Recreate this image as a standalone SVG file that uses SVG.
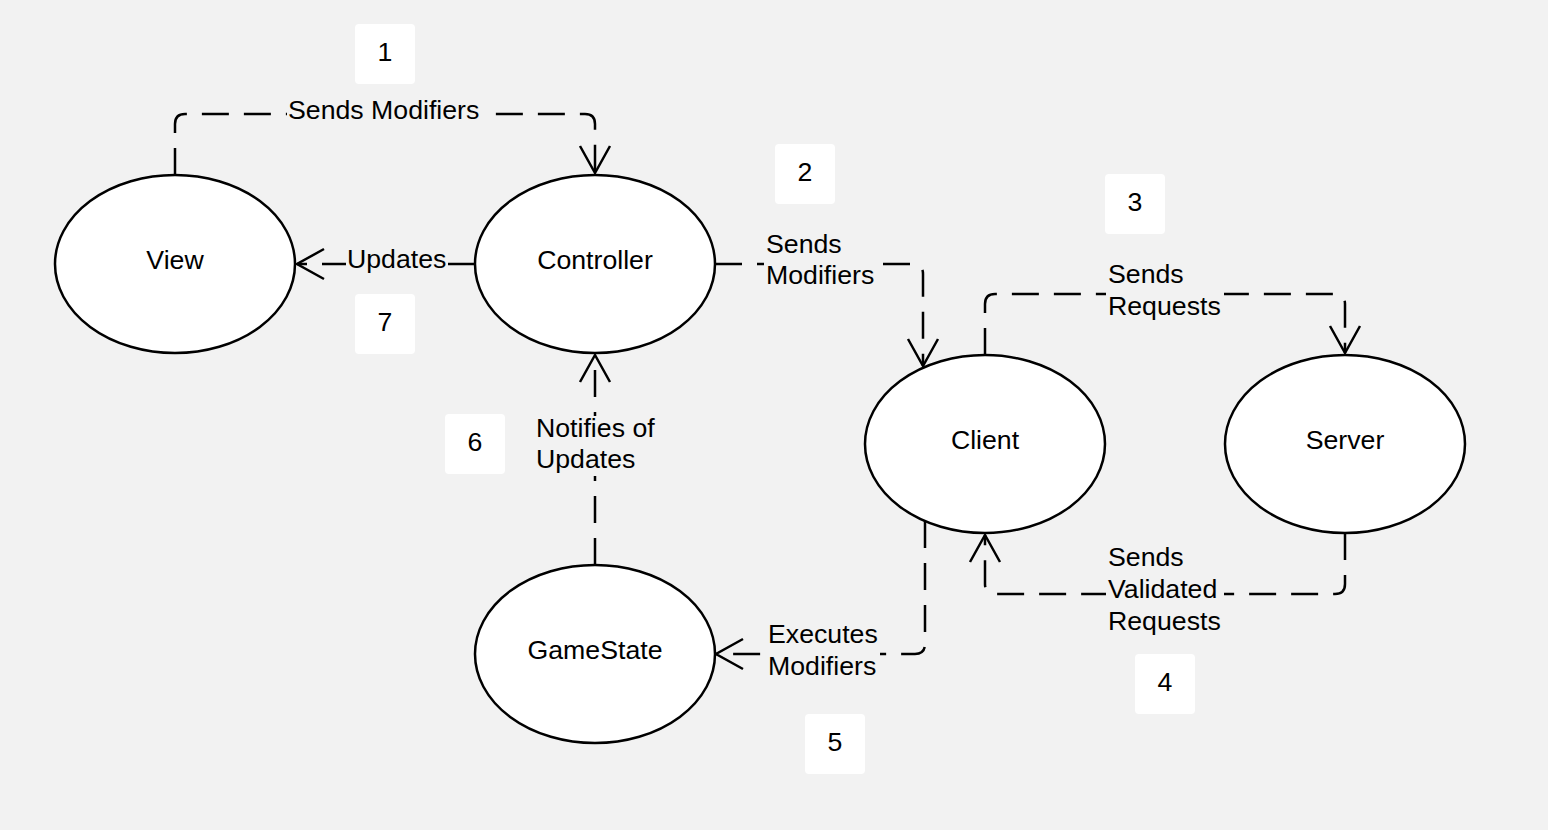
<svg xmlns="http://www.w3.org/2000/svg" width="1548" height="830" viewBox="0 0 1548 830">
<defs>
<style>
.node{fill:#ffffff;stroke:#000000;stroke-width:2.5}
.nl{font-family:"Liberation Sans",Arial,sans-serif;font-size:26.7px;fill:#000;text-anchor:middle}
.lbl{font-family:"Liberation Sans",Arial,sans-serif;font-size:26.7px;fill:#000}
.conn{fill:none;stroke:#000;stroke-width:2.5;stroke-dasharray:27 15;marker-end:url(#arr)}
.lbg{fill:#f2f2f2}
.badge{fill:#ffffff}
</style>
<marker id="arr" markerUnits="userSpaceOnUse" markerWidth="40" markerHeight="40" viewBox="-32 -20 40 40" refX="0" refY="0" orient="auto" overflow="visible">
<path d="M-27,-15 L0,0 L-27,15" fill="none" stroke="#000" stroke-width="2.5"/>
</marker>
</defs>
<rect x="0" y="0" width="1548" height="830" fill="#f2f2f2"/>
<g id="connectors">
<path class="conn" d="M175,175 V124 Q175,114 185,114 H585 Q595,114 595,124 V173"/>
<path class="conn" d="M715,264 H913 Q923,264 923,274 V366"/>
<path class="conn" d="M985,355 V304 Q985,294 995,294 H1335 Q1345,294 1345,304 V353"/>
<path class="conn" d="M1345,533 V584 Q1345,594 1335,594 H995 Q985,594 985,584 V535"/>
<path class="conn" d="M925,521 V644 Q925,654 915,654 H716"/>
<path class="conn" d="M595,565 V355"/>
<path class="conn" d="M475,264 H297"/>
<rect class="lbg" x="287" y="96" width="196" height="30"/>
<text class="lbl" x="288" y="119">Sends Modifiers</text>
<rect class="lbg" x="764" y="232" width="114" height="60"/>
<text class="lbl" x="766" y="253">Sends</text>
<text class="lbl" x="766" y="284">Modifiers</text>
<rect class="lbg" x="1106" y="262" width="118" height="60"/>
<text class="lbl" x="1108" y="283">Sends</text>
<text class="lbl" x="1108" y="315">Requests</text>
<rect class="lbg" x="1106" y="545" width="118" height="92"/>
<text class="lbl" x="1108" y="566">Sends</text>
<text class="lbl" x="1108" y="598">Validated</text>
<text class="lbl" x="1108" y="630">Requests</text>
<rect class="lbg" x="766" y="622" width="114" height="60"/>
<text class="lbl" x="768" y="643">Executes</text>
<text class="lbl" x="768" y="675">Modifiers</text>
<rect class="lbg" x="534" y="416" width="124" height="60"/>
<text class="lbl" x="536" y="437">Notifies of</text>
<text class="lbl" x="536" y="468">Updates</text>
<rect class="lbg" x="346" y="246" width="102" height="30"/>
<text class="lbl" x="347" y="268">Updates</text>
</g>
<g id="view"><ellipse class="node" cx="175" cy="264" rx="120" ry="89"/><text class="nl" x="175" y="269">View</text></g>
<g id="controller"><ellipse class="node" cx="595" cy="264" rx="120" ry="89"/><text class="nl" x="595" y="269">Controller</text></g>
<g id="client"><ellipse class="node" cx="985" cy="444" rx="120" ry="89"/><text class="nl" x="985" y="449">Client</text></g>
<g id="server"><ellipse class="node" cx="1345" cy="444" rx="120" ry="89"/><text class="nl" x="1345" y="449">Server</text></g>
<g id="gamestate"><ellipse class="node" cx="595" cy="654" rx="120" ry="89"/><text class="nl" x="595" y="659">GameState</text></g>
<g id="badge1"><rect class="badge" x="355" y="24" width="60" height="60" rx="4"/><text class="nl" x="385" y="61">1</text></g>
<g id="badge2"><rect class="badge" x="775" y="144" width="60" height="60" rx="4"/><text class="nl" x="805" y="181">2</text></g>
<g id="badge3"><rect class="badge" x="1105" y="174" width="60" height="60" rx="4"/><text class="nl" x="1135" y="211">3</text></g>
<g id="badge4"><rect class="badge" x="1135" y="654" width="60" height="60" rx="4"/><text class="nl" x="1165" y="691">4</text></g>
<g id="badge5"><rect class="badge" x="805" y="714" width="60" height="60" rx="4"/><text class="nl" x="835" y="751">5</text></g>
<g id="badge6"><rect class="badge" x="445" y="414" width="60" height="60" rx="4"/><text class="nl" x="475" y="451">6</text></g>
<g id="badge7"><rect class="badge" x="355" y="294" width="60" height="60" rx="4"/><text class="nl" x="385" y="331">7</text></g>
</svg>
